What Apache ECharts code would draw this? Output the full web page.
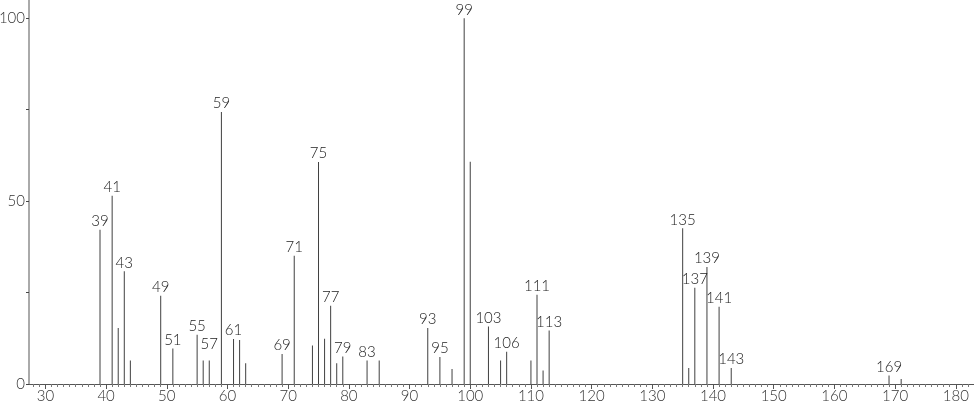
<!DOCTYPE html>
<html>
<head>
<meta charset="utf-8">
<script src="https://cdn.jsdelivr.net/npm/echarts@6/dist/echarts.min.js"></script>
<style>
  html, body { margin: 0; padding: 0; background: #fff; }
  #chart { width: 974px; height: 406px; }
</style>
</head>
<body>
<div id="chart"></div>
<script>
// m/z values of the peaks
const mz = [39, 41, 42, 43, 44, 49, 51, 55, 56, 57, 59, 61, 62, 63, 69, 71, 74, 75, 76, 77, 78, 79, 83, 85,
            93, 95, 97, 99, 100, 103, 105, 106, 110, 111, 112, 113, 135, 136, 137, 139, 141, 143, 169, 171];
// relative intensities (%)
const intensity = [42.2, 51.5, 15.3, 30.8, 6.4, 24.1, 9.7, 13.5, 6.4, 6.4, 74.4, 12.3, 12.0, 5.7, 8.2, 35.1, 10.5, 60.7, 12.4, 21.4, 5.7, 7.5, 6.4, 6.4,
                   15.3, 7.4, 4.1, 100, 60.8, 15.7, 6.4, 8.8, 6.4, 24.4, 3.7, 14.6, 42.6, 4.4, 26.3, 32.0, 21.1, 4.4, 2.3, 1.4];
// peaks that carry a label
const labeledPeaks = [39, 41, 43, 49, 51, 55, 57, 59, 61, 69, 71, 75, 77, 79, 83, 93, 95, 99, 103, 106, 111, 113,
                      135, 137, 139, 141, 143, 169];
// axis tick labels
const xTicks = [30, 40, 50, 60, 70, 80, 90, 100, 110, 120, 130, 140, 150, 160, 170, 180];
const yTicks = [0, 25, 50, 75, 100];
const yLabels = [0, 50, 100];

const FONT = 'Lato';
const data = mz.map((m, i) => [m, intensity[i]]);

function renderPeak(params, api) {
  const m = api.value(0);
  const v = api.value(1);
  const top = api.coord([m, v]);
  const base = api.coord([m, 0]);
  const el = {
    type: 'rect',
    shape: { x: top[0] - 0.5, y: top[1], width: 1, height: base[1] - top[1] },
    style: { fill: '#404040' }
  };
  if (labeledPeaks.includes(m)) {
    el.textContent = {
      style: { text: String(m), fill: '#222', font: '300 15px ' + FONT }
    };
    // the 57 label sits a little higher in the original, clear of the 55 label
    el.textConfig = { position: 'top', distance: m === 57 ? 9 : 1 };
  }
  return el;
}

const chart = echarts.init(document.getElementById('chart'), null, { renderer: 'canvas' });
chart.setOption({
  animation: false,
  backgroundColor: '#ffffff',
  grid: { left: 29, right: 0, top: 0, bottom: 22, containLabel: false, outerBoundsMode: 'none' },
  xAxis: {
    type: 'value',
    min: 27.3,
    max: 183,
    minInterval: 10,
    maxInterval: 10,
    axisLine: { show: true, onZero: false, lineStyle: { color: '#555', width: 1 } },
    axisTick: { show: true, length: 5, lineStyle: { color: '#555' }, customValues: xTicks },
    minorTick: { show: true, splitNumber: 10, length: 3, lineStyle: { color: '#777' } },
    axisLabel: { show: true, customValues: xTicks, margin: 5, color: '#333', fontFamily: FONT, fontWeight: 300, fontSize: 15 },
    splitLine: { show: false }
  },
  yAxis: {
    type: 'value',
    min: 0,
    max: 105,
    interval: 25,
    axisLine: { show: true, lineStyle: { color: '#aaa', width: 2 } },
    axisTick: { show: true, length: 3, lineStyle: { color: '#444' }, customValues: yTicks },
    axisLabel: { show: true, customValues: yLabels, margin: 4, color: '#333', fontFamily: FONT, fontWeight: 300, fontSize: 15 },
    splitLine: { show: false }
  },
  series: [{
    type: 'custom',
    renderItem: renderPeak,
    data: data,
    clip: false,
    encode: { x: 0, y: 1 }
  }]
});
</script>
</body>
</html>
